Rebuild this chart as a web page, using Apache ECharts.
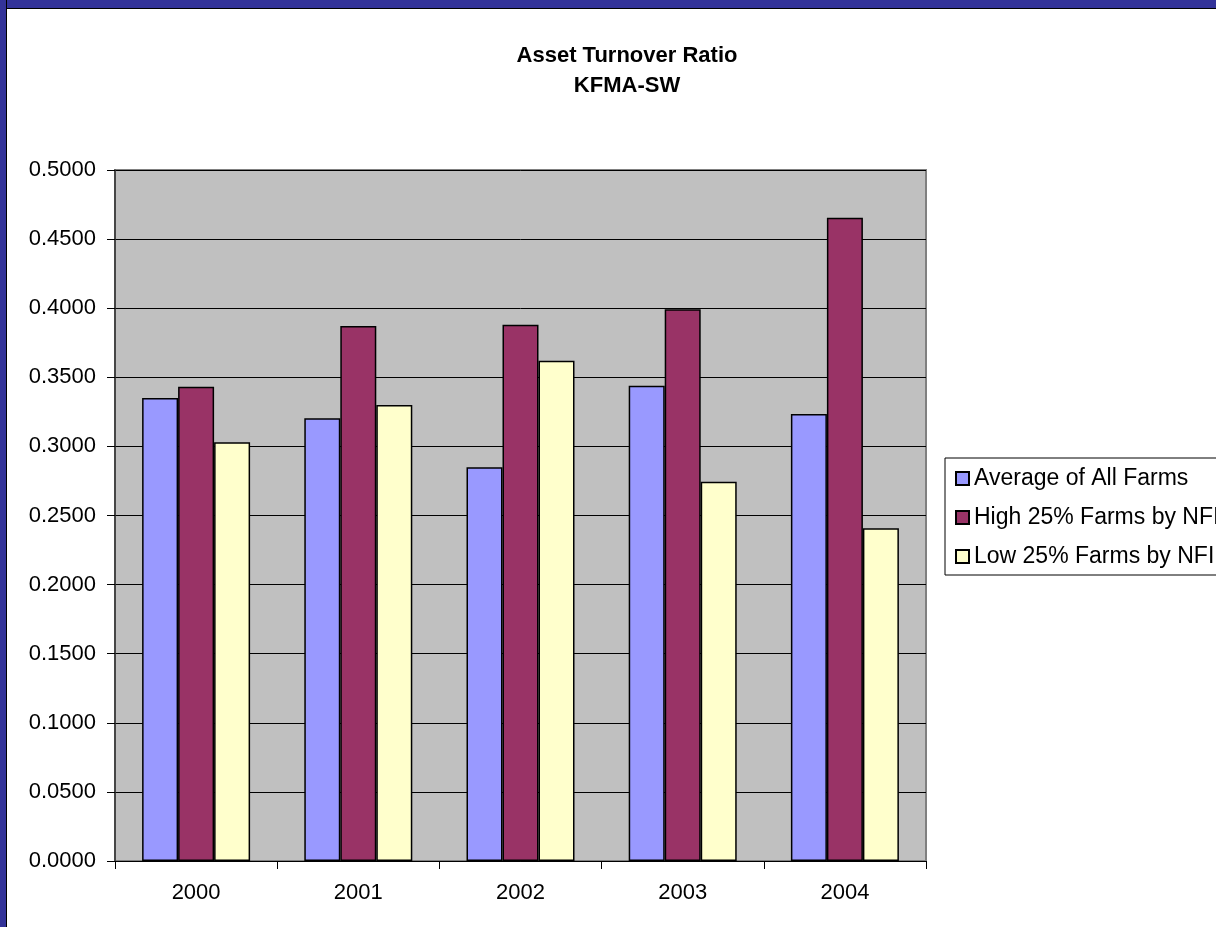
<!DOCTYPE html>
<html lang="en">
<head>
  <meta charset="UTF-8">
  <title>Asset Turnover Ratio</title>
  <style>
    html, body {
      margin: 0;
      padding: 0;
      background: #fff;
    }

    .chart {
      position: absolute;
      left: 0;
      top: 0;
      width: 1216px;
      height: 927px;
    }

    /* blue slide frame, top and left */
    .frame-top {
      position: absolute;
      left: 0;
      top: 0;
      width: 1216px;
      height: 8px;
      background: #333399;
      border-bottom: 1px solid #000;
    }

    .frame-left {
      position: absolute;
      left: 0;
      top: 0;
      width: 6px;
      height: 927px;
      background: #333399;
      border-right: 1px solid #000;
    }
  </style>
</head>
<body>
  <div class="chart" id="barChart"></div>
  <div class="frame-top"></div>
  <div class="frame-left"></div>

  <script src="https://cdn.jsdelivr.net/npm/echarts@6/dist/echarts.min.js"></script>
  <script>
    const years = ['2000', '2001', '2002', '2003', '2004']

    const avgAll = [0.3350, 0.3203, 0.2849, 0.3439, 0.3234]
    const high25 = [0.3432, 0.3871, 0.3881, 0.3992, 0.4655]
    const low25 = [0.3030, 0.3300, 0.3620, 0.2745, 0.2407]

    const seriesNames = [
      'Average of All Farms',
      'High 25% Farms by NFI',
      'Low 25% Farms by NFI'
    ]
    const colors = ['#9999FF', '#993366', '#FFFFCC']

    const font = "'Liberation Sans', Arial, sans-serif"

    const chart = echarts.init(document.getElementById('barChart'))

    function makeSeries (name, data, color) {
      return {
        name: name,
        type: 'bar',
        data: data,
        barWidth: 36,
        barGap: '0%',
        itemStyle: {
          color: color,
          borderColor: '#000',
          borderWidth: 1.5
        }
      }
    }

    chart.setOption({
      animation: false,
      textStyle: { fontFamily: font },
      title: {
        text: 'Asset Turnover Ratio\nKFMA-SW',
        left: 622,
        textAlign: 'center',
        top: 36,
        textStyle: {
          fontSize: 22,
          fontWeight: 'bold',
          color: '#000',
          lineHeight: 30,
          fontFamily: font
        }
      },
      legend: {
        orient: 'vertical',
        left: 945,
        top: 458,
        width: 320,
        padding: [9, 40, 7, 10],
        itemWidth: 13,
        itemHeight: 13,
        itemGap: 16,
        borderColor: '#000',
        borderWidth: 1,
        icon: 'rect',
        textStyle: {
          fontSize: 23,
          color: '#000',
          fontFamily: font
        },
        data: seriesNames
      },
      grid: {
        show: true,
        left: 115,
        top: 170,
        right: 290,
        bottom: 66,
        backgroundColor: '#C0C0C0',
        borderColor: '#808080',
        borderWidth: 2
      },
      xAxis: {
        type: 'category',
        data: years,
        axisLine: { lineStyle: { color: '#000', width: 1 } },
        axisTick: { show: true, length: 8, lineStyle: { color: '#000' } },
        axisLabel: {
          color: '#000',
          fontSize: 22,
          margin: 21,
          fontFamily: font
        }
      },
      yAxis: {
        type: 'value',
        min: 0,
        max: 0.5,
        interval: 0.05,
        axisLine: { show: true, lineStyle: { color: '#333', width: 1.5 } },
        axisTick: { show: true, length: 8, lineStyle: { color: '#000' } },
        axisLabel: {
          color: '#000',
          fontSize: 22,
          margin: 19,
          fontFamily: font,
          formatter: v => v.toFixed(4)
        },
        splitLine: { lineStyle: { color: '#000', width: 1 } }
      },
      series: [
        makeSeries(seriesNames[0], avgAll, colors[0]),
        makeSeries(seriesNames[1], high25, colors[1]),
        makeSeries(seriesNames[2], low25, colors[2])
      ]
    })
  </script>
</body>
</html>
